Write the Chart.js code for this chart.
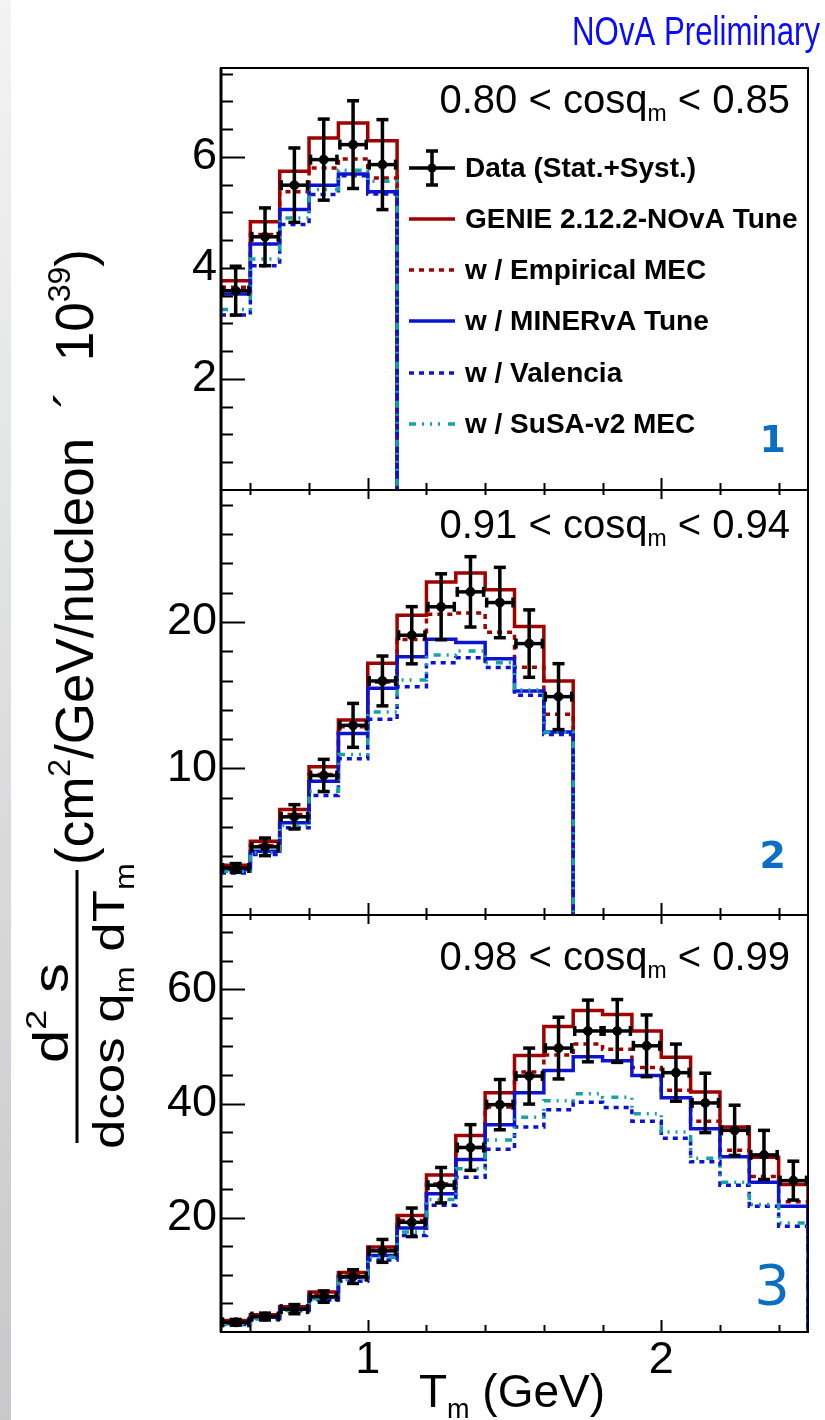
<!DOCTYPE html>
<html>
<head>
<meta charset="utf-8">
<script src="https://cdn.jsdelivr.net/npm/chart.js@4.4.0/dist/chart.umd.min.js"></script>
<style>
  html, body { margin: 0; padding: 0; background: #fff; }
  #wrap { position: relative; width: 825px; height: 1420px; }
  #strip { position: absolute; left: 0; top: 0; width: 11px; height: 1420px; background: linear-gradient(#f3f3f3, #c6c8ca); }
  #chartTmu { position: absolute; left: 0; top: 0; }
</style>
</head>
<body>
<div id="wrap"><div id="strip"></div><canvas id="chartTmu" width="825" height="1420"></canvas></div>
<script>
// bin edges (GeV)
const binEdges1 = [0.5, 0.6, 0.7, 0.8, 0.9, 1.0, 1.1];
const binEdges2 = [0.5, 0.6, 0.7, 0.8, 0.9, 1.0, 1.1, 1.2, 1.3, 1.4, 1.5, 1.6, 1.7];
const binEdges3 = [0.5, 0.6, 0.7, 0.8, 0.9, 1.0, 1.1, 1.2, 1.3, 1.4, 1.5, 1.6, 1.7, 1.8, 1.9, 2.0, 2.1, 2.2, 2.3, 2.4, 2.5];

// panel 1 : 0.80 < cos < 0.85
const data1     = [3.59, 4.56, 5.49, 5.95, 6.22, 5.86];
const dataErr1  = [0.44, 0.52, 0.67, 0.73, 0.79, 0.81];
const genie1    = [3.77, 4.83, 5.74, 6.34, 6.61, 6.29];
const mec1      = [3.65, 4.60, 5.37, 5.80, 5.96, 5.62];
const minerva1  = [3.53, 4.43, 5.05, 5.49, 5.69, 5.37];
const valencia1 = [3.15, 4.04, 4.78, 5.32, 5.66, 5.33];
const susa1     = [3.25, 4.16, 4.90, 5.41, 5.76, 5.56];

// panel 2 : 0.91 < cos < 0.94
const data2     = [3.21, 4.65, 6.70, 9.52, 12.94, 15.97, 19.09, 21.03, 22.05, 21.32, 18.52, 14.90];
const dataErr2  = [0.30, 0.60, 0.83, 1.10, 1.50, 1.70, 1.95, 2.25, 2.40, 2.40, 2.30, 2.25];
const genie2    = [3.39, 5.03, 7.20, 10.11, 13.30, 17.18, 20.46, 22.73, 23.33, 22.19, 19.68, 15.97];
const mec2      = [3.21, 4.74, 6.86, 9.59, 12.85, 15.90, 18.80, 20.52, 20.60, 19.30, 16.90, 13.70];
const minerva2  = [3.10, 4.35, 6.29, 9.13, 12.39, 15.47, 17.63, 18.82, 18.59, 17.49, 15.28, 12.48];
const valencia2 = [2.87, 4.12, 5.95, 8.16, 10.66, 13.35, 15.58, 17.22, 17.56, 16.88, 14.99, 12.32];
const susa2     = [2.98, 4.24, 6.10, 8.45, 10.96, 13.85, 16.04, 17.74, 18.02, 17.22, 15.35, 12.48];

// panel 3 : 0.98 < cos < 0.99
const data3     = [1.7, 2.7, 4.0, 6.2, 9.7, 14.2, 19.2, 25.7, 32.3, 39.8, 44.8, 49.7, 52.7, 52.7, 50.1, 45.4, 40.1, 35.3, 31.0, 26.5];
const dataErr3  = [0.5, 0.6, 0.8, 1.0, 1.2, 2.0, 2.5, 3.1, 4.0, 4.4, 4.9, 5.4, 5.4, 5.5, 5.4, 5.0, 5.2, 4.4, 4.3, 3.4];
const genie3    = [2.0, 3.0, 4.4, 7.0, 10.4, 14.9, 20.4, 27.5, 34.4, 41.9, 48.4, 53.5, 56.3, 55.6, 52.7, 48.1, 42.0, 35.9, 30.6, 25.8];
const mec3      = [1.8, 2.8, 4.1, 6.5, 9.8, 14.3, 19.5, 25.9, 32.3, 39.4, 45.5, 48.5, 50.4, 49.5, 46.3, 42.3, 36.9, 31.8, 27.2, 22.8];
const minerva3  = [1.5, 2.6, 4.0, 6.1, 9.6, 13.4, 18.2, 24.2, 30.2, 36.3, 41.9, 45.8, 48.2, 47.5, 44.9, 41.0, 35.6, 30.7, 26.2, 22.0];
const valencia3 = [1.3, 2.3, 3.7, 5.6, 8.9, 12.6, 16.9, 22.2, 27.1, 32.0, 35.9, 38.9, 40.2, 39.3, 36.9, 33.9, 29.8, 25.7, 22.0, 18.5];
const susa3     = [1.4, 2.4, 3.8, 5.8, 9.2, 13.1, 17.5, 23.2, 28.6, 33.6, 37.6, 40.5, 41.7, 41.1, 38.2, 35.0, 30.4, 26.2, 22.3, 19.1];

const cosRanges = [['0.80', '0.85'], ['0.91', '0.94'], ['0.98', '0.99']];
const panelNumbers = ['1', '2', '3'];
const yMaxes = [7.6, 29, 73];
const yTicks1 = [2, 4, 6];
const yTicks2 = [10, 20];
const yTicks3 = [20, 40, 60];
const xTicks = [1, 2];
const legendLabels = ['Data (Stat.+Syst.)', 'GENIE 2.12.2-NOvA Tune', 'w / Empirical MEC',
                      'w / MINERvA Tune', 'w / Valencia', 'w / SuSA-v2 MEC'];

const FONT = "'Liberation Sans', Arial, sans-serif";
const RED = '#a10000', BLUE = '#0c14d2', TEAL = '#16a3a3';
const modelStyles = [
    { color: RED, dash: [] },
    { color: RED, dash: [5, 5] },
    { color: BLUE, dash: [] },
    { color: BLUE, dash: [5, 5] },
    { color: TEAL, dash: [7, 6, 2, 6, 2, 6, 2, 8] }
];

const panels = [
    { edges: binEdges1, data: data1, err: dataErr1, models: [genie1, mec1, minerva1, valencia1, susa1], ticks: yTicks1, major: 2, minor: 0.5 },
    { edges: binEdges2, data: data2, err: dataErr2, models: [genie2, mec2, minerva2, valencia2, susa2], ticks: yTicks2, major: 10, minor: 2 },
    { edges: binEdges3, data: data3, err: dataErr3, models: [genie3, mec3, minerva3, valencia3, susa3], ticks: yTicks3, major: 20, minor: 5 }
];

function histPoints(edges, vals) {
    const pts = vals.map((v, i) => ({ x: edges[i], y: v }));
    const last = edges[edges.length - 1];
    pts.push({ x: last, y: vals[vals.length - 1] });
    pts.push({ x: last, y: 0 });
    return pts;
}

const datasets = [];
panels.forEach((p, k) => {
    const yId = 'y' + (k + 1);
    datasets.push({
        type: 'line',
        label: legendLabels[0],
        data: p.data.map((v, i) => ({ x: (p.edges[i] + p.edges[i + 1]) / 2, y: v })),
        errors: p.err,
        binLo: p.edges.slice(0, -1),
        binHi: p.edges.slice(1),
        yAxisID: yId,
        showLine: false,
        pointRadius: 4.5,
        pointStyle: 'circle',
        backgroundColor: '#000',
        borderColor: '#000',
        order: 0
    });
    p.models.forEach((m, j) => {
        datasets.push({
            type: 'line',
            label: legendLabels[j + 1],
            data: histPoints(p.edges, m),
            yAxisID: yId,
            stepped: true,
            borderColor: modelStyles[j].color,
            borderDash: modelStyles[j].dash,
            borderWidth: 3.5,
            pointRadius: 0,
            fill: false,
            order: 5 - j
        });
    });
});

function line(ctx, x0, y0, x1, y1) {
    ctx.beginPath(); ctx.moveTo(x0, y0); ctx.lineTo(x1, y1); ctx.stroke();
}

// text made of pieces with different size / vertical shift
function richText(ctx, parts, x, y, align, weight) {
    let total = 0;
    parts.forEach(p => {
        ctx.font = (weight || '') + ' ' + p.s + 'px ' + FONT;
        p.w = ctx.measureText(p.t).width;
        total += p.w;
    });
    let cx = align === 'right' ? x - total : (align === 'center' ? x - total / 2 : x);
    ctx.textAlign = 'left';
    parts.forEach(p => {
        ctx.font = (weight || '') + ' ' + p.s + 'px ' + FONT;
        ctx.fillText(p.t, cx, y + (p.dy || 0));
        cx += p.w;
    });
}

const errorBarsPlugin = {
    id: 'errorBars',
    afterDatasetsDraw(chart) {
        const ctx = chart.ctx;
        const xs = chart.scales.x;
        chart.data.datasets.forEach(ds => {
            if (!ds.errors) return;
            const ys = chart.scales[ds.yAxisID];
            ctx.save();
            ctx.strokeStyle = '#000';
            ctx.lineWidth = 3.5;
            ds.data.forEach((pt, k) => {
                const px = xs.getPixelForValue(pt.x), py = ys.getPixelForValue(pt.y);
                const x0 = xs.getPixelForValue(ds.binLo[k]), x1 = xs.getPixelForValue(ds.binHi[k]);
                const yt = ys.getPixelForValue(pt.y + ds.errors[k]);
                const yb = ys.getPixelForValue(pt.y - ds.errors[k]);
                line(ctx, x0, py, x1, py);
                line(ctx, px, yt, px, yb);
                line(ctx, px - 6, yt, px + 6, yt);
                line(ctx, px - 6, yb, px + 6, yb);
                line(ctx, x0 + 1.5, py - 5, x0 + 1.5, py + 5);
                line(ctx, x1 - 1.5, py - 5, x1 - 1.5, py + 5);
            });
            ctx.restore();
        });
    }
};

const framePlugin = {
    id: 'rootFrame',
    afterDraw(chart) {
        const ctx = chart.ctx;
        const xs = chart.scales.x;
        ctx.save();
        ctx.strokeStyle = '#000';
        ctx.fillStyle = '#000';
        panels.forEach((p, k) => {
            const ys = chart.scales['y' + (k + 1)];
            // frame
            ctx.lineWidth = 2;
            ctx.strokeRect(xs.left, ys.top, xs.right - xs.left, ys.bottom - ys.top);
            ctx.lineWidth = 3;
            line(ctx, xs.left, ys.top, xs.left, ys.bottom);
            // y ticks (inside)
            ctx.lineWidth = 2;
            for (let v = p.minor; v < yMaxes[k]; v += p.minor) {
                const isMajor = Math.abs(v / p.major - Math.round(v / p.major)) < 1e-6;
                const py = Math.round(ys.getPixelForValue(v)) + 0.5;
                line(ctx, xs.left, py, xs.left + (isMajor ? 24 : 12), py);
            }
            // x ticks on bottom (up) and top (down, except top panel)
            for (let v = 0.6; v < 2.45; v += 0.2) {
                const isMajor = Math.abs(v - Math.round(v)) < 1e-6;
                const px = Math.round(xs.getPixelForValue(v)) + 0.5;
                const len = isMajor ? 12 : 7;
                line(ctx, px, ys.bottom, px, ys.bottom - len);
                if (k > 0) line(ctx, px, ys.top, px, ys.top + (isMajor ? 9 : 5));
            }
            // cos theta range label
            ctx.fillStyle = '#000';
            ctx.textBaseline = 'alphabetic';
            const base = [113, 538, 970][k];
            richText(ctx, [
                { t: cosRanges[k][0] + ' < cosq', s: 40 },
                { t: 'm', s: 23, dy: 8 },
                { t: ' < ' + cosRanges[k][1], s: 40 }
            ], 790, base, 'right');
            // panel number
            ctx.fillStyle = '#0a6fc2';
            ctx.textAlign = 'right';
            if (k < 2) {
                ctx.font = "bold 38px 'DejaVu Sans', sans-serif";
                ctx.fillText(panelNumbers[k], 786, ys.bottom - [38, 47][k]);
            } else {
                ctx.font = "56px 'DejaVu Sans', sans-serif";
                ctx.fillText(panelNumbers[k], 790, ys.bottom - 28);
            }
        });

        // legend in the top panel
        const lx0 = 409, lx1 = 455, tx = 465;
        const rowY = [168, 219, 270, 321, 373, 424];
        ctx.textBaseline = 'middle';
        ctx.textAlign = 'left';
        legendLabels.forEach((lab, i) => {
            const y = rowY[i];
            if (i === 0) {
                ctx.strokeStyle = '#000';
                ctx.lineWidth = 3.5;
                ctx.setLineDash([]);
                line(ctx, lx0, y, lx1, y);
                line(ctx, 432, y - 17, 432, y + 17);
                line(ctx, 426, y - 17, 438, y - 17);
                line(ctx, 426, y + 17, 438, y + 17);
                ctx.fillStyle = '#000';
                ctx.beginPath(); ctx.arc(432, y, 4.5, 0, Math.PI * 2); ctx.fill();
            } else {
                const st = modelStyles[i - 1];
                ctx.strokeStyle = st.color;
                ctx.lineWidth = 3.5;
                ctx.setLineDash(st.dash);
                line(ctx, lx0, y, lx1, y);
                ctx.setLineDash([]);
            }
            ctx.fillStyle = '#000';
            ctx.font = 'bold 28px ' + FONT;
            ctx.fillText(lab, tx, y + 1);
        });

        // preliminary tag (condensed, tall glyphs)
        ctx.save();
        ctx.textBaseline = 'alphabetic';
        ctx.textAlign = 'right';
        ctx.fillStyle = '#0a0aff';
        ctx.translate(820, 45);
        ctx.scale(0.78, 1);
        ctx.font = '40px ' + FONT;
        ctx.fillText('NOvA Preliminary', 0, 0);
        ctx.restore();

        // x title
        ctx.fillStyle = '#000';
        ctx.textBaseline = 'alphabetic';
        richText(ctx, [
            { t: 'T', s: 46 },
            { t: 'm', s: 27, dy: 11 },
            { t: ' (GeV)', s: 46 }
        ], 512, 1407, 'center');

        // y title (rotated)
        ctx.save();
        ctx.translate(93, 557);
        ctx.rotate(-Math.PI / 2);
        richText(ctx, [
            { t: '(cm', s: 53 },
            { t: '2', s: 32, dy: -23 },
            { t: '/GeV/nucleon  \u00b4  10', s: 53 },
            { t: '39', s: 32, dy: -23 },
            { t: ')', s: 53 }
        ], 0, 0, 'center');
        ctx.restore();

        ctx.save();
        ctx.translate(68, 1013);
        ctx.rotate(-Math.PI / 2);
        ctx.scale(1.2, 1);
        richText(ctx, [
            { t: 'd', s: 50 },
            { t: '2', s: 30, dy: -22 },
            { t: ' s', s: 50 }
        ], 0, 0, 'center');
        ctx.restore();

        ctx.save();
        ctx.translate(124, 1006);
        ctx.rotate(-Math.PI / 2);
        ctx.scale(1.2, 1);
        richText(ctx, [
            { t: 'dcos q', s: 44 },
            { t: 'm', s: 27, dy: 10 },
            { t: ' dT', s: 44 },
            { t: 'm', s: 27, dy: 10 }
        ], 0, 0, 'center');
        ctx.restore();

        ctx.lineWidth = 3;
        ctx.strokeStyle = '#000';
        line(ctx, 77, 870, 77, 1143);
        ctx.restore();
    }
};

function yScale(k, weight) {
    return {
        type: 'linear',
        position: 'left',
        stack: 'panels',
        stackWeight: [422, 425, 417][k],
        weight: weight,
        min: 0,
        max: yMaxes[k],
        afterBuildTicks: s => { s.ticks = panels[k].ticks.map(v => ({ value: v })); },
        afterFit: s => { s.width = 221; },
        grid: { display: false, drawTicks: false },
        border: { display: false },
        ticks: { color: '#000', padding: 4, font: { family: FONT, size: 45 } }
    };
}

new Chart(document.getElementById('chartTmu').getContext('2d'), {
    type: 'line',
    data: { datasets: datasets },
    options: {
        responsive: false,
        animation: false,
        devicePixelRatio: 1,
        layout: { padding: { left: 0, right: 17, top: 68, bottom: 0 } },
        plugins: { legend: { display: false }, tooltip: { enabled: false } },
        elements: { line: { tension: 0 } },
        scales: {
            x: {
                type: 'linear',
                position: 'bottom',
                min: 0.5,
                max: 2.5,
                afterBuildTicks: s => { s.ticks = xTicks.map(v => ({ value: v })); },
                afterFit: s => { s.height = 88; },
                grid: { display: false, drawTicks: false },
                border: { display: false },
                ticks: { color: '#000', padding: 2, maxRotation: 0, autoSkip: false, font: { family: FONT, size: 45 } }
            },
            y1: yScale(0, 3),
            y2: yScale(1, 2),
            y3: yScale(2, 1)
        }
    },
    plugins: [errorBarsPlugin, framePlugin]
});
</script>
</body>
</html>
